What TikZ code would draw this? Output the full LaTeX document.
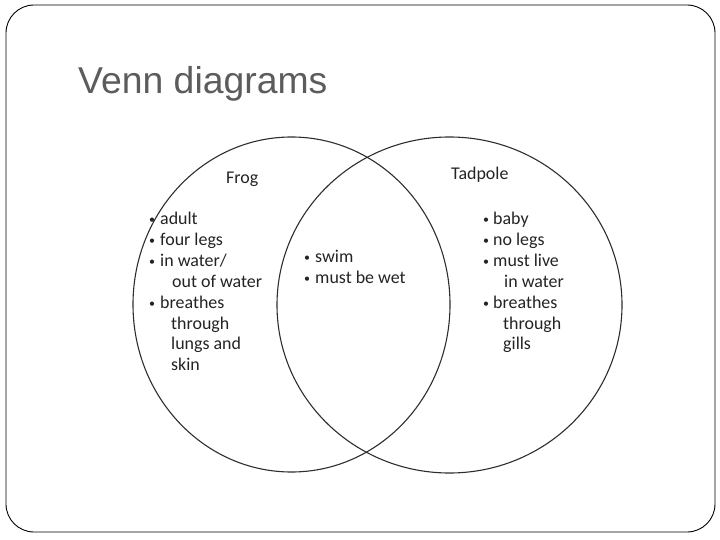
\documentclass[tikz,border=0pt]{standalone}
\usepackage{fontspec}
\newfontfamily\carlitofont{Carlito}
\newfontfamily\titlefont{Liberation Sans}
\definecolor{titlegray}{RGB}{92,92,92}
\definecolor{linegray}{RGB}{45,45,45}
\definecolor{txtcol}{RGB}{35,35,35}
\begin{document}
\begin{tikzpicture}[x=1bp,y=-1bp,
  txt/.style={anchor=base west, inner sep=0pt, text=txtcol, font=\carlitofont\fontsize{18}{20}\selectfont},
  bul/.style={anchor=base west, inner sep=0pt, text=txtcol, font=\carlitofont\fontsize{12}{20}\selectfont},
  ttl/.style={anchor=base west, inner sep=0pt, text=titlegray, font=\titlefont\fontsize{37.5}{40}\selectfont},
  ring/.style={draw=linegray, line width=1.1pt}]
\useasboundingbox (0,0) rectangle (720,540);
% frame
\draw[line width=0.9pt, rounded corners=28bp] (6,5) rectangle (715,532);
% title
\node[ttl] (title) at (78,94) {Venn diagrams};
% circles
\draw[ring] (291.5,304.5) ellipse [x radius=158.5bp, y radius=167.5bp];
\draw[ring] (449.5,305) ellipse [x radius=172.5bp, y radius=168bp];
% headings
\node[txt] (frog) at (226,184) {Frog};
\node[txt] (tad) at (451,180) {Tadpole};
% left list
\node[bul] (lb1) at (149,224) {•};
\node[txt] (l1) at (160,225) {adult};
\node[bul] (lb2) at (149,244.8) {•};
\node[txt] (l2) at (160,245.8) {four legs};
\node[bul] (lb3) at (149,265.6) {•};
\node[txt] (l3) at (160,266.6) {in water/};
\node[txt] (l4) at (172,287.4) {out of water};
\node[bul] (lb4) at (149,307.2) {•};
\node[txt] (l5) at (160,308.2) {breathes};
\node[txt] (l6) at (171,329) {through};
\node[txt] (l7) at (171,349.8) {lungs and};
\node[txt] (l8) at (171,370.6) {skin};
% middle list
\node[bul] (mb1) at (304,262) {•};
\node[txt] (m1) at (315,263) {swim};
\node[bul] (mb2) at (304,282.8) {•};
\node[txt] (m2) at (315,283.8) {must be wet};
% right list
\node[bul] (rb1) at (483,224) {•};
\node[txt] (r1) at (493,225) {baby};
\node[bul] (rb2) at (483,244.8) {•};
\node[txt] (r2) at (493,245.8) {no legs};
\node[bul] (rb3) at (483,265.6) {•};
\node[txt] (r3) at (493,266.6) {must live};
\node[txt] (r4) at (504,287.4) {in water};
\node[bul] (rb4) at (483,307.2) {•};
\node[txt] (r5) at (493,308.2) {breathes};
\node[txt] (r6) at (503,329) {through};
\node[txt] (r7) at (503,349.8) {gills};
\end{tikzpicture}
\end{document}
